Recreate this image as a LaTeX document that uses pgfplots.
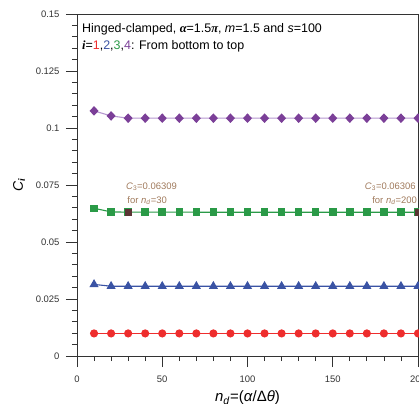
\documentclass[border=0pt]{standalone}
\usepackage{pgfplots}
\pgfplotsset{compat=1.18}
\usepackage{fontspec}
\setmainfont{Liberation Sans}
\newfontfamily\serifb{Liberation Serif}
\definecolor{cred}{HTML}{EE2D2D}
\definecolor{cblue}{HTML}{3A53A4}
\definecolor{cgreen}{HTML}{2A9A47}
\definecolor{cpurple}{HTML}{7B3F98}
\definecolor{cpurpleL}{HTML}{B597CF}
\definecolor{cbrown}{HTML}{5B3535}
\definecolor{cann}{HTML}{A07A5C}
\definecolor{caxis}{HTML}{333333}
\newcommand{\bi}[1]{{\serifb\bfseries\itshape #1}}
\begin{document}
\begin{tikzpicture}
\begin{axis}[name=ax,
  scale only axis, width=341bp, height=342bp,
  xmin=0, xmax=200, ymin=0, ymax=0.15,
  axis line style={caxis, line width=0.8bp},
  tick style={caxis, line width=0.8bp},
  tick align=outside, tick pos=left,
  major tick length=11bp, minor tick length=5bp,
  xtick={0,50,100,150,200}, minor x tick num=4,
  ytick={0,0.025,0.05,0.075,0.1,0.125,0.15}, minor y tick num=4,
  yticklabels={0,0.025,0.05,0.075,0.1,0.125,0.15},
  scaled y ticks=false,
  /pgf/number format/assume math mode=true,
  ticklabel style={font=\fontsize{9.5}{11}\selectfont, text=caxis},
  xticklabel style={yshift=-5.5bp},
  yticklabel style={xshift=-3bp},
  xlabel={\fontsize{15}{17}\selectfont\textit{n}\textsubscript{\textit{d}}=(\textit{α}/Δ\textit{θ})},
  ylabel={\fontsize{14}{16}\selectfont\textit{C}\textsubscript{\bi{i}}},
  xlabel style={yshift=-1bp},
  ylabel style={yshift=4bp},
  clip=false,
]
\addplot[cred, line width=1.1bp, mark=*, mark size=3.5bp, mark options={fill=cred, draw=cred}] coordinates {
(10,0.0099)(20,0.0099)(30,0.0099)(40,0.0099)(50,0.0099)(60,0.0099)(70,0.0099)(80,0.0099)(90,0.0099)(100,0.0099)
(110,0.0099)(120,0.0099)(130,0.0099)(140,0.0099)(150,0.0099)(160,0.0099)(170,0.0099)(180,0.0099)(190,0.0099)(200,0.0099)};
\addplot[cblue, line width=1.1bp, mark=triangle*, mark size=4.2bp, mark options={fill=cblue, draw=cblue}] coordinates {
(10,0.0314)(20,0.0306)(30,0.0306)(40,0.0306)(50,0.0306)(60,0.0306)(70,0.0306)(80,0.0306)(90,0.0306)(100,0.0306)
(110,0.0306)(120,0.0306)(130,0.0306)(140,0.0306)(150,0.0306)(160,0.0306)(170,0.0306)(180,0.0306)(190,0.0306)(200,0.0306)};
\addplot[cgreen, line width=1.1bp, mark=square*, mark size=3.2bp, mark options={fill=cgreen, draw=cgreen}] coordinates {
(10,0.0648)(20,0.0632)(30,0.06309)(40,0.06308)(50,0.06307)(60,0.06307)(70,0.06307)(80,0.06306)(90,0.06306)(100,0.06306)
(110,0.06306)(120,0.06306)(130,0.06306)(140,0.06306)(150,0.06306)(160,0.06306)(170,0.06306)(180,0.06306)(190,0.06306)(200,0.06306)};
\addplot[only marks, mark=square*, mark size=3.2bp, mark options={fill=cbrown, draw=cbrown}] coordinates {(30,0.06309)(200,0.06306)};
\addplot[cpurpleL, line width=1.1bp, mark=diamond*, mark size=4bp, mark options={fill=cpurple, draw=cpurple, xscale=1.25}] coordinates {
(10,0.1075)(20,0.1053)(30,0.1043)(40,0.1043)(50,0.1043)(60,0.1043)(70,0.1043)(80,0.1043)(90,0.1043)(100,0.1043)
(110,0.1043)(120,0.1043)(130,0.1043)(140,0.1043)(150,0.1043)(160,0.1043)(170,0.1043)(180,0.1043)(190,0.1043)(200,0.1043)};
\node[anchor=base west, inner sep=0pt, text=cann, font=\fontsize{9.5}{10}\selectfont] at (axis cs:28.7,0.0732) {\textit{C}\textsubscript{3}=0.06309};
\node[anchor=base west, inner sep=0pt, text=cann, font=\fontsize{9.5}{10}\selectfont] at (axis cs:29.5,0.0671) {for \textit{n}\textsubscript{\textit{d}}=30};
\node[anchor=base east, inner sep=0pt, text=cann, font=\fontsize{9.5}{10}\selectfont] at (axis cs:198.8,0.0732) {\textit{C}\textsubscript{3}=0.06306};
\node[anchor=base east, inner sep=0pt, text=cann, font=\fontsize{9.5}{10}\selectfont] at (axis cs:199.5,0.0671) {for \textit{n}\textsubscript{\textit{d}}=200};
\node[anchor=north west, inner sep=0pt, align=left, font=\fontsize{12.5}{17}\selectfont, xshift=5bp, yshift=-9bp] at (rel axis cs:0,1)
 {Hinged-clamped, \bi{α}=1.5\bi{π}, \textit{m}=1.5 and \textit{s}=100\\
  \bi{i}=\textcolor{cred}{1},\textcolor{cblue}{2},\textcolor{cgreen}{3},\textcolor{cpurple}{4}: From bottom to top};
\end{axis}
\pgfresetboundingbox
\path[use as bounding box] ([xshift=-77bp,yshift=-48bp]ax.south west) rectangle ([xshift=1bp,yshift=14bp]ax.north east);
\end{tikzpicture}
\end{document}
